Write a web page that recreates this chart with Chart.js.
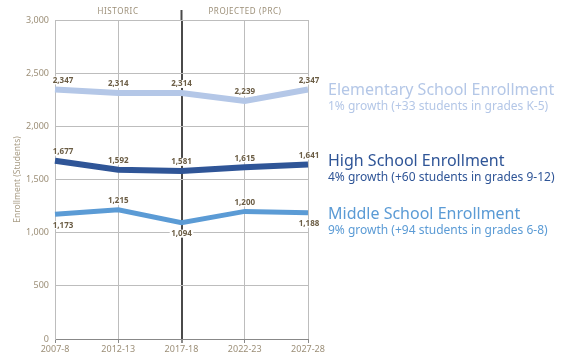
<!DOCTYPE html>
<html>
<head>
<meta charset="utf-8">
<script src="https://cdn.jsdelivr.net/npm/chart.js@4/dist/chart.umd.min.js"></script>
<style>
  html, body { margin: 0; padding: 0; background: #fff; }
  #wrap { position: relative; width: 580px; height: 360px; font-family: "Noto Sans", "Open Sans", sans-serif; }
  #chart { position: absolute; left: 0; top: 0; }
  .period { position: absolute; top: 5px; font-size: 8px; letter-spacing: 0.6px; color: #9c8f78; transform: translateX(-50%); white-space: nowrap; }
  .key { position: absolute; left: 328px; white-space: nowrap; }
  .key .name { font-size: 16px; line-height: 18px; }
  .key .sub { font-size: 12px; line-height: 15px; }
</style>
</head>
<body>
<div id="wrap">
  <canvas id="chart" width="580" height="360"></canvas>
  <div class="period" style="left:118px">HISTORIC</div>
  <div class="period" style="left:245px">PROJECTED (PRC)</div>
  <div class="key" style="top:80px;color:#b4c7e7">
    <div class="name">Elementary School Enrollment</div>
    <div class="sub">1% growth (+33 students in grades K-5)</div>
  </div>
  <div class="key" style="top:151px;color:#2f5597">
    <div class="name">High School Enrollment</div>
    <div class="sub">4% growth (+60 students in grades 9-12)</div>
  </div>
  <div class="key" style="top:204px;color:#5b9bd5">
    <div class="name">Middle School Enrollment</div>
    <div class="sub">9% growth (+94 students in grades 6-8)</div>
  </div>
</div>
<script>
const years = ["2007-8", "2012-13", "2017-18", "2022-23", "2027-28"];
const elementary = [2347, 2314, 2314, 2239, 2347];
const highSchool = [1677, 1592, 1581, 1615, 1641];
const middle = [1173, 1215, 1094, 1200, 1188];
// label above (1) or below (-1) each point
const middleSide = [-1, 1, -1, 1, -1];

const fmt = v => v.toLocaleString("en-US");

// value labels beside each point, on a white patch so grid lines stop at them
const valueLabels = {
  id: "valueLabels",
  afterDatasetsDraw(chart) {
    const ctx = chart.ctx;
    ctx.save();
    ctx.font = "bold 8px 'Noto Sans', sans-serif";
    ctx.textAlign = "center";
    ctx.textBaseline = "middle";
    chart.data.datasets.forEach((ds, di) => {
      const meta = chart.getDatasetMeta(di);
      meta.data.forEach((pt, i) => {
        const side = ds.sides ? ds.sides[i] : 1;
        let x = pt.x;
        if (i === 0) x += 8;
        if (i === ds.data.length - 1) x += 1;
        const y = side > 0 ? pt.y - 9 : pt.y + 11;
        const txt = fmt(ds.data[i]);
        const w = ctx.measureText(txt).width;
        ctx.fillStyle = "#fff";
        ctx.fillRect(x - w / 2 - 1.5, y - 4, w + 3, 8);
        ctx.fillStyle = "#6b5d45";
        ctx.fillText(txt, x, y);
      });
    });
    ctx.restore();
  }
};

// divider between historic and projected, running above the plot
const divider = {
  id: "divider",
  afterDraw(chart) {
    const x = chart.scales.x.getPixelForValue(2);
    const ctx = chart.ctx;
    ctx.save();
    ctx.strokeStyle = "#4a4a4a";
    ctx.lineWidth = 2;
    ctx.beginPath();
    ctx.moveTo(x, 10);
    ctx.lineTo(x, chart.chartArea.top);
    ctx.stroke();
    ctx.restore();
  }
};

new Chart(document.getElementById("chart"), {
  type: "line",
  data: {
    labels: years,
    datasets: [
      { label: "Elementary", data: elementary, borderColor: "#b4c7e7", borderWidth: 6, pointRadius: 0, tension: 0 },
      { label: "High School", data: highSchool, borderColor: "#2f5597", borderWidth: 6, pointRadius: 0, tension: 0 },
      { label: "Middle School", data: middle, sides: middleSide, borderColor: "#5b9bd5", borderWidth: 5, pointRadius: 0, tension: 0 }
    ]
  },
  options: {
    responsive: false,
    animation: false,
    layout: { padding: { left: 0, right: 272, top: 20, bottom: 0 } },
    plugins: { legend: { display: false }, tooltip: { enabled: false } },
    scales: {
      x: {
        offset: false,
        grid: {
          color: ctx => ctx.index === 2 ? "#4a4a4a" : "#bdbdbd",
          lineWidth: ctx => ctx.index === 2 ? 2 : 1,
          tickLength: 4,
          tickColor: "#888"
        },
        border: { color: "#888" },
        ticks: { color: "#9c8f78", font: { size: 9, family: "'Noto Sans', sans-serif" }, maxRotation: 0, padding: 1 },
        afterFit: s => { s.height = 21; }
      },
      y: {
        min: 0,
        max: 3000,
        grid: {
          color: ctx => ctx.tick && ctx.tick.value === 0 ? "#888" : "#bdbdbd",
          drawTicks: false
        },
        border: { color: "#bdbdbd" },
        ticks: { stepSize: 500, color: "#9c8f78", padding: 6, font: { size: 9, family: "'Noto Sans', sans-serif" }, callback: v => fmt(v) },
        title: { display: true, text: "Enrollment (Students)", color: "#a89c85", font: { size: 8.5, family: "'Noto Sans', sans-serif" }, padding: { top: 12, bottom: 0 } },
        afterFit: s => { s.width = 55; }
      }
    }
  },
  plugins: [valueLabels, divider]
});
</script>
</body>
</html>
